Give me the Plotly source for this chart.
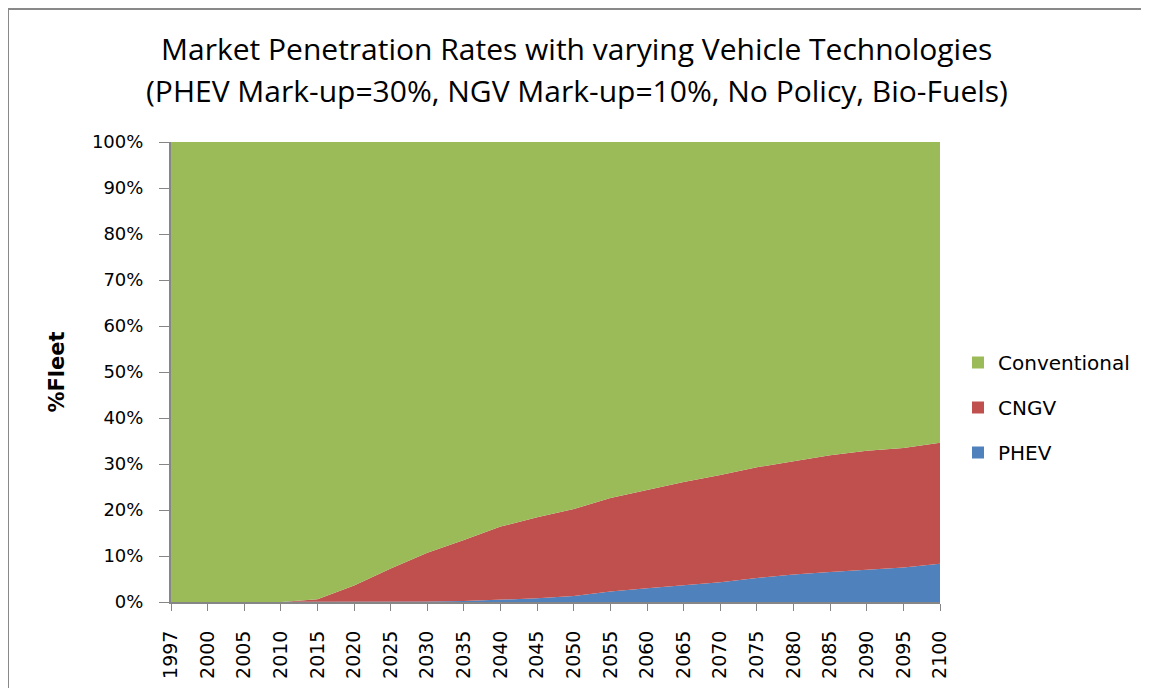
import plotly.graph_objects as go

years = ["1997", "2000", "2005", "2010", "2015", "2020", "2025", "2030", "2035", "2040", "2045",
         "2050", "2055", "2060", "2065", "2070", "2075", "2080", "2085", "2090", "2095", "2100"]

phev = [0, 0, 0, 0, 0, 0, 0, 0.1, 0.2, 0.5, 0.8,
        1.3, 2.3, 3.0, 3.6, 4.3, 5.2, 6.0, 6.5, 7.0, 7.5, 8.3]
cngv = [0, 0, 0, 0, 0.6, 3.6, 7.3, 10.6, 13.3, 15.9, 17.6,
        18.9, 20.3, 21.4, 22.5, 23.3, 24.1, 24.6, 25.4, 25.9, 26.0, 26.3]
conventional = [100 - p - c for p, c in zip(phev, cngv)]

y_ticks = [0, 10, 20, 30, 40, 50, 60, 70, 80, 90, 100]
y_ticklabels = [f"{v}%" for v in y_ticks]

series = [("PHEV", phev, "#4F81BD"), ("CNGV", cngv, "#C0504D"), ("Conventional", conventional, "#9BBB59")]

idx = list(range(len(years)))

fig = go.Figure()
for name, vals, col in series:
    fig.add_trace(go.Scatter(
        x=idx, y=vals, name=name, mode="lines", stackgroup="one",
        line=dict(width=0, color=col), fillcolor=col, showlegend=False,
        hovertemplate="%{y:.1f}%<extra>" + name + "</extra>"))

# legend entries (square swatches)
for name, vals, col in reversed(series):
    fig.add_trace(go.Scatter(
        x=[None], y=[None], name=name, mode="markers",
        marker=dict(symbol="square", size=14, color=col), legendgroup=name,
        showlegend=True))

OFF = 8  # page body margin
W, H = 1149 - 2 * OFF, 696 - 2 * OFF
L, T = 171 - OFF, 142 - OFF
R, B = W - (940 - OFF), H - (602 - OFF)
pw, ph = W - L - R, H - T - B

def px(x):
    return (x - OFF - L) / pw

def py(y):
    return (H - B - (y - OFF)) / ph

border = dict(color="#898989", width=3)

fig.update_layout(
    width=W, height=H,
    margin=dict(l=L, r=R, t=T, b=B, autoexpand=False),
    paper_bgcolor="white", plot_bgcolor="white",
    font=dict(family="DejaVu Sans", color="black"),
    showlegend=True,
    legend=dict(x=px(958), y=py(343), xanchor="left", yanchor="top",
                font=dict(size=20, family="DejaVu Sans"), tracegroupgap=16,
                itemsizing="constant", bgcolor="rgba(0,0,0,0)"),
    xaxis=dict(range=[0, len(years) - 1], tickmode="array", tickvals=idx, ticktext=years,
               tickangle=-90, ticks="outside", ticklen=7, tickcolor="#868686",
               showline=True, linecolor="#868686", linewidth=2, showgrid=False, zeroline=False,
               tickfont=dict(size=19), ticklabelstandoff=12, automargin=False, fixedrange=True),
    yaxis=dict(range=[0, 100], tickmode="array", tickvals=y_ticks, ticktext=y_ticklabels,
               ticks="outside", ticklen=10, tickcolor="#868686",
               showline=True, linecolor="#868686", linewidth=2, showgrid=False, zeroline=False,
               tickfont=dict(size=18), ticklabelstandoff=12, automargin=False,
               title=dict(text="<b>%Fleet</b>", font=dict(size=21), standoff=22),
               fixedrange=True),
    annotations=[
        dict(text="Market Penetration Rates with varying Vehicle Technologies",
             x=px(1149 / 2 + 2), xref="paper", y=py(48), yref="paper", xanchor="center", yanchor="middle",
             showarrow=False, font=dict(family="Open Sans", size=30, color="black")),
        dict(text="(PHEV Mark-up=30%, NGV Mark-up=10%, No Policy, Bio-Fuels)",
             x=px(1149 / 2 + 2), xref="paper", y=py(90), yref="paper", xanchor="center", yanchor="middle",
             showarrow=False, font=dict(family="Open Sans", size=30, color="black")),
    ],
    shapes=[
        dict(type="line", xref="paper", yref="paper", x0=px(6), x1=px(1200), y0=py(8.5), y1=py(8.5),
             line=border, layer="above"),
        dict(type="line", xref="paper", yref="paper", x0=px(7.5), x1=px(7.5), y0=py(7), y1=py(750),
             line=border, layer="above"),
    ],
)

fig.write_html("out.html")
